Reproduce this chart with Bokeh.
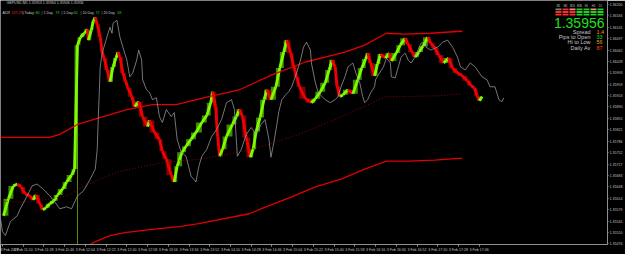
from bokeh.plotting import figure
from bokeh.models import Label, BoxAnnotation, FixedTicker, PrintfTickFormatter, ColumnDataSource
from bokeh.embed import file_html
from bokeh.resources import INLINE

PT = 1e5  # prices below are stored in points (1e-5)

# ---- candles (bar index, close in points) ----
candle_bar = [1,6,11,15,19,23,28,31,34,38,41,44,48,52,56,61,65,70,73,76,79,83,86,87,90,92,94,96,99,101,
              103,106,109,112,115,117,119,122,125,127,131,134,138,142,147,149,154,159,162,166,171,174,177,182,186,
              191,196,202,207,211,213,216,218,220,223,227,233,237,240,243,247,251,254,257,261,265,268,272,277,281,
              285,288,292,295,298,301,307,313,317,322,327,331,334,337,339,342,345,350,355,360,364,368,370,373,377,
              380,383,388,392,394,399,403,408,411,415,418,422,426,431,434,438,442,447,452,456,461,466,471,475,478,
              481,483,486]
candle_close = [135561,135612,135651,135657,135648,135627,135621,135609,135624,135597,
                135579,135585,135597,135606,135624,135642,135663,135684,135702,136077,
                136101,136113,136125,136092,136122,136149,136161,136140,136101,136056,
                136038,136002,135966,136011,136038,136056,136041,135993,135966,135948,
                135921,135891,135906,135861,135831,135849,135813,135792,135756,135732,
                135684,135663,135711,135753,135771,135792,135813,135843,135864,135903,
                135936,135891,135801,135741,135762,135801,135837,135861,135882,135864,
                135798,135738,135762,135816,135858,135912,135942,135912,135951,136008,
                136056,136092,136053,136014,135981,135951,135915,135903,135915,135936,
                135963,136002,136032,136011,135954,135921,135927,135942,135930,135972,
                136008,136035,136053,136023,135984,136020,136050,136038,136053,136029,
                136053,136077,136098,136080,136056,136041,136056,136074,136101,136083,
                136068,136047,136023,136038,136008,135993,135984,135969,135954,135948,
                135924,135909,135921]

# long wick of the breakout candle
spike_bar = [76]
spike_low = [135460]
spike_high = [136077]

# ---- lagging close line (grey) ----
lag_bar = [-2,0,3,8,15,18,25,30,35,41,48,53,58,65,70,76,82,89,94,96,97,98,99,101,104,107,109,111,112,116,
           119,122,126,129,132,136,138,141,142,146,149,152,156,159,162,166,171,174,177,181,186,191,196,199,202,
           207,212,217,222,227,232,235,238,242,247,252,257,262,266,270,272,275,278,280,283,287,290,293,298,302,
           305,308,312,313,317,320,327,332,337,340,343,347,350,355,358,362,365,367,370,373,377,378,382,386,389,
           393,394,398,401,404,408,411,414,418,421,424,428,429,434,438,441,446,451,456,461,464,469,474,479,483,
           486,491,494,499,503,506,508]
lag_close = [135552,135513,135501,135543,135561,135582,135621,135651,135657,135642,135621,135603,135582,135588,135582,
             135621,135636,135672,135702,135762,135852,135927,136011,136053,136083,136113,136131,136113,136143,136152,
             136101,136071,136032,135981,135993,136032,136062,136032,135972,135942,135933,135912,135918,135861,135843,
             135882,135861,135873,135792,135753,135741,135681,135663,135711,135741,135762,135801,135822,135852,135903,
             135912,135882,135741,135762,135807,135828,135807,135837,135852,135792,135738,135783,135837,135876,135912,
             135927,135936,135951,135993,136032,136071,136086,136062,136023,135963,135933,135912,135903,135912,135921,
             135951,135981,136011,136023,135993,135963,135921,135903,135912,135933,135951,135972,135993,136011,136038,
             136023,135981,135978,136011,136041,136053,136032,136023,136041,136062,136083,136086,136071,136062,136068,
             136071,136086,136092,136071,136041,136011,136002,136023,136011,135993,135981,135972,135951,135951,135912,
             135906,135918]

# ---- envelope / channel ----
upper_bar = [-2,48,58,76,92,126,152,176,209,240,273,307,347,367,389,408,434,464,466]
upper_val = [135798,135798,135807,135837,135852,135882,135897,135897,135921,135942,135987,136026,136056,136077,
             136113,136110,136113,136119,136119]
mid_bar = [-2,15,31,48,65,82,99,116,139,166,199,240,270,300,337,388,401,444,466]
mid_val = [135606,135603,135603,135612,135621,135648,135672,135693,135708,135723,135732,135753,135777,135807,
           135852,135921,135921,135924,135930]
lower_bar = [79,94,109,124,149,179,199,250,267,293,317,343,367,389,411,438,466]
lower_val = [135456,135483,135501,135510,135519,135528,135537,135567,135588,135618,135648,135672,135702,135726,
             135726,135729,135735]

# ---- axes ----
y_ticks = [1.36200,1.36166,1.36131,1.36097,1.36062,1.36028,1.35993,1.35959,1.35924,1.35890,1.35855,
           1.35821,1.35786,1.35752,1.35717,1.35683,1.35648,1.35614,1.35579,1.35545,1.35510,1.35476]
x_ticks = [0,21,42,63,84,105,126,147,168,189,210,231,252,273,294,315,336,357,378,399,420,441,462,483]
x_labels = ["3 Feb 2022","3 Feb 11:10","3 Feb 11:28","3 Feb 11:46","3 Feb 12:04","3 Feb 12:22",
            "3 Feb 12:40","3 Feb 12:58","3 Feb 13:16","3 Feb 13:34","3 Feb 13:52","3 Feb 14:10",
            "3 Feb 14:28","3 Feb 14:46","3 Feb 15:04","3 Feb 15:22","3 Feb 15:40","3 Feb 15:58",
            "3 Feb 16:16","3 Feb 16:34","3 Feb 16:52","3 Feb 17:10","3 Feb 17:28","3 Feb 17:46"]
bid_price = 1.35956

# ---- info panel ----
tf_labels = ["M1","M5","M15","M30","H1","H4","D1"]
tf_colors = [["#6a8f6a","#ff2a2a","#ff8a8a","#22d022","#22d022","#ff8a8a","#22d022"],
             ["#ff2a2a","#ff2a2a","#ff2a2a","#22d022","#22d022","#22d022","#22d022"],
             ["#ff2a2a","#ff2a2a","#ff2a2a","#22d022","#22d022","#22d022","#22d022"]]
info_names = ["Spread","Pips to Open","Hi to Low","Daily Av"]
info_values = ["1.4","33","56","87"]
info_colors = ["#ff8c00","#22dd22","#e0a000","#ff4500"]

header1 = "GBPUSD,M1  1.35953 1.35964 1.35946 1.35956"
header2 = [("ADR", "#c8c8c8"), ("127.2%", "#ff3030"), ("| Today", "#c8c8c8"), ("80", "#22dd22"),
           ("| 1 Day", "#c8c8c8"), ("79", "#22dd22"), ("| 5 Day", "#c8c8c8"), ("60", "#22dd22"),
           ("| 10 Day", "#c8c8c8"), ("72", "#22dd22"), ("| 20 Day", "#c8c8c8"), ("69", "#22dd22")]
header2_x = [2, 11, 22, 35, 41, 55, 61, 73, 80, 95, 101, 117]

FONT = "Liberation Sans"
H = 246  # frame height in px (fixed by borders below)

p = figure(width=625, height=254, output_backend="svg", toolbar_location=None,
           x_range=(-2, 613), y_range=(1.35474, 1.36212), y_axis_location="right",
           background_fill_color="black", border_fill_color="black", outline_line_color=None,
           min_border=0, min_border_left=0, min_border_right=15, min_border_top=0, min_border_bottom=8)
p.grid.visible = False

# candle bodies: stepped boxes plus a ribbon between consecutive closes
x0s, y0s, x1s, y1s, col = [], [], [], [], []
for i in range(1, len(candle_bar)):
    o = candle_close[i - 1] / PT
    c = candle_close[i] / PT
    x0s.append(candle_bar[i - 1])
    x1s.append(candle_bar[i])
    y0s.append(o)
    y1s.append(c)
    col.append("#7cfc00" if c >= o else "#f00000")
src = ColumnDataSource(dict(x0=x0s, y0=y0s, x1=x1s, y1=y1s, color=col,
                            top=[max(a, b) for a, b in zip(y0s, y1s)],
                            bottom=[min(a, b) for a, b in zip(y0s, y1s)]))
p.segment(x0=spike_bar, y0=[v / PT for v in spike_low], x1=spike_bar, y1=[v / PT for v in spike_high],
          line_color="#5c8a00", line_width=1)
p.quad(left="x0", right="x1", top="top", bottom="bottom", fill_color="color", fill_alpha=0.55,
       line_color=None, source=src)
p.segment(x0="x0", y0="y0", x1="x1", y1="y1", line_color="color", line_width=2.8,
          line_cap="butt", source=src)

p.line(upper_bar, [v / PT for v in upper_val], line_color="#e00000", line_width=1.3)
p.line(lower_bar, [v / PT for v in lower_val], line_color="#e00000", line_width=1.3)
p.line(mid_bar, [v / PT for v in mid_val], line_color="#8b0000", line_width=1, line_dash="1 2")
p.line(lag_bar, [v / PT for v in lag_close], line_color="#a8a8a8", line_width=0.7)

# axes
ya = p.yaxis[0]
ya.ticker = FixedTicker(ticks=y_ticks)
ya.formatter = PrintfTickFormatter(format="%.5f")
ya.major_label_text_font_size = "3.6px"
ya.major_label_text_font = FONT
ya.major_label_text_color = "#c0c0c0"
ya.axis_line_color = "#909090"
ya.major_tick_line_color = "#909090"
ya.major_tick_out = 1
ya.major_tick_in = 0
ya.minor_tick_line_color = None
ya.major_label_standoff = 1

xa = p.xaxis[0]
xa.ticker = FixedTicker(ticks=x_ticks)
xa.major_label_overrides = {t: s for t, s in zip(x_ticks, x_labels)}
xa.major_label_text_font_size = "3.6px"
xa.major_label_text_font = FONT
xa.major_label_text_color = "#c0c0c0"
xa.major_label_text_align = "left"
xa.axis_line_color = "#909090"
xa.major_tick_line_color = "#909090"
xa.major_tick_out = 2
xa.major_tick_in = 0
xa.minor_tick_line_color = None
xa.major_label_standoff = 1

# bid price tag on the price axis
p.add_layout(Label(x=611, y=bid_price, x_units="screen", y_units="data", text="1.35956",
                   text_font=FONT, text_font_size="3.6px", text_color="black",
                   background_fill_color="white", text_baseline="middle", text_align="left"))

# header texts
p.add_layout(Label(x=6, y=H - 4, x_units="screen", y_units="screen", text=header1, text_font=FONT,
                   text_font_size="3.6px", text_color="#c8c8c8", text_baseline="middle"))
for (t, c), xx in zip(header2, header2_x):
    p.add_layout(Label(x=xx, y=H - 14, x_units="screen", y_units="screen", text=t, text_font=FONT,
                       text_font_size="3.6px", text_color=c, text_baseline="middle"))

# timeframe grid
for j, lab in enumerate(tf_labels):
    gx = 555 + 7 * j
    p.add_layout(Label(x=gx + 3, y=H - 7.5, x_units="screen", y_units="screen", text=lab, text_font=FONT,
                       text_font_size="2.6px", text_color="#c8c8c8", text_baseline="middle", text_align="center"))
    for r in range(3):
        t0 = 10 + 2.6 * r
        p.add_layout(BoxAnnotation(left=gx, right=gx + 6, top=H - t0, bottom=H - t0 - 1.8,
                                   left_units="screen", right_units="screen", top_units="screen",
                                   bottom_units="screen", fill_color=tf_colors[r][j], fill_alpha=1,
                                   line_color=None))

p.add_layout(Label(x=604, y=H - 24, x_units="screen", y_units="screen", text="1.35956", text_font=FONT,
                   text_font_size="14px", text_color="#1fe01f", text_baseline="middle", text_align="right"))
for k, (nm, vv, cc) in enumerate(zip(info_names, info_values, info_colors)):
    yy = H - (33.5 + 5.2 * k)
    p.add_layout(Label(x=590, y=yy, x_units="screen", y_units="screen", text=nm, text_font=FONT,
                       text_font_size="5.5px", text_color="#c8c8c8", text_baseline="middle", text_align="right"))
    p.add_layout(Label(x=596, y=yy, x_units="screen", y_units="screen", text=vv, text_font=FONT,
                       text_font_size="5.5px", text_color=cc, text_baseline="middle", text_align="left"))

open("out.html", "w").write(file_html(p, INLINE))
